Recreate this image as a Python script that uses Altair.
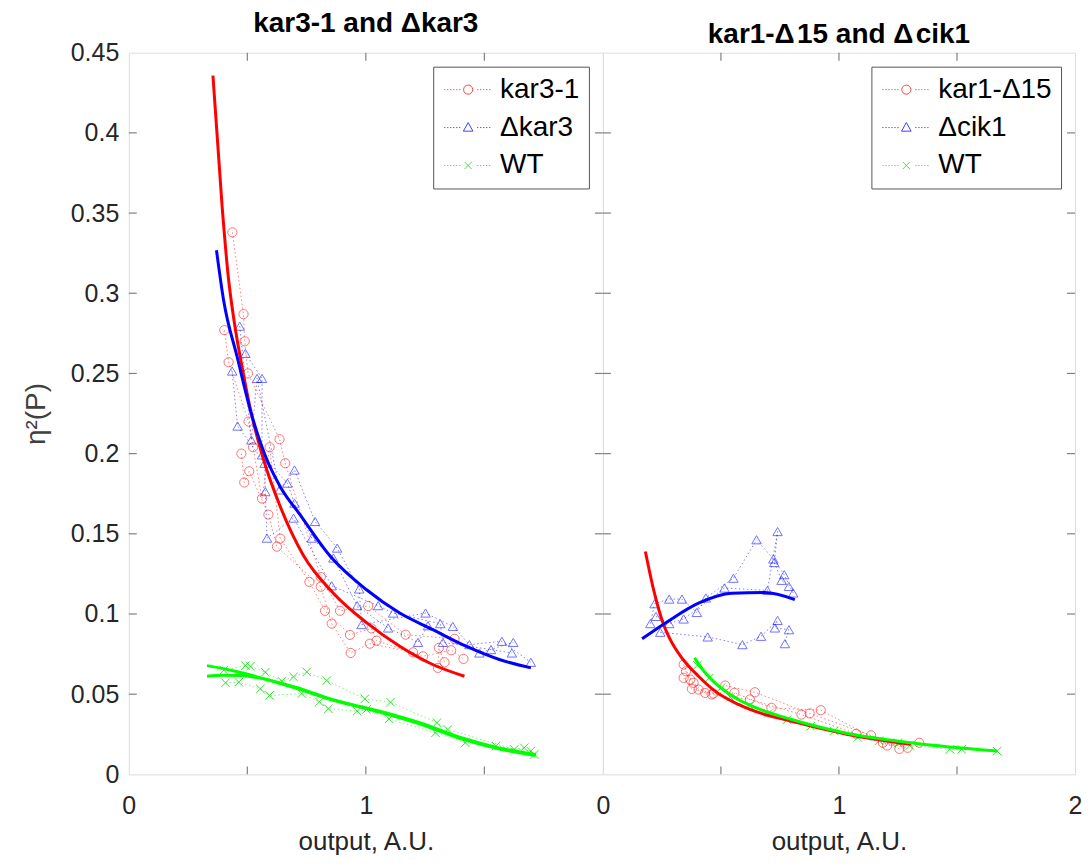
import altair as alt
import pandas as pd

# ---------------- data ----------------
# Left panel: kar3-1 (red circles)
kar31_x = [0.437, 0.484, 0.403, 0.489, 0.421, 0.503, 0.505, 0.524, 0.636, 0.594, 0.475, 0.660, 0.508,
           0.487, 0.562, 0.589, 0.639, 0.625, 0.762, 0.810, 0.810, 0.828, 0.891, 0.856, 0.933, 1.010,
           1.024, 1.017, 1.045, 0.936, 1.168, 1.199, 1.241, 1.308, 1.360, 1.374, 1.332, 1.304, 1.412]
kar31_y = [0.338, 0.287, 0.277, 0.270, 0.257, 0.250, 0.220, 0.204, 0.209, 0.204, 0.200, 0.194, 0.189,
           0.182, 0.172, 0.162, 0.147, 0.142, 0.120, 0.123, 0.117, 0.102, 0.102, 0.094, 0.087, 0.105,
           0.091, 0.0815, 0.0834, 0.0757, 0.0871, 0.0761, 0.0736, 0.0789, 0.0774, 0.0845, 0.0699, 0.0664, 0.0720]
kar31_run = [0, 0, 1, 0, 1, 0, 1, 1, 0, 1, 2, 0, 2, 2, 1, 2, 1, 2, 1, 0, 2, 1, 0, 2, 1, 0,
             1, 2, 1, 2, 0, 2, 1, 2, 1, 0, 2, 2, 1]

# Left panel: Δkar3 (blue triangles)
dkar3_x = [0.468, 0.492, 0.436, 0.541, 0.562, 0.459, 0.517, 0.562, 0.573, 0.699, 0.669, 0.576, 0.636,
           0.699, 0.695, 0.786, 0.772, 0.583, 0.879, 0.863, 0.856, 0.972, 0.963, 1.052, 0.982, 1.094,
           1.115, 1.252, 1.262, 1.314, 1.367, 1.220, 1.325, 1.437, 1.479, 1.528, 1.574, 1.622, 1.616, 1.696]
dkar3_y = [0.2795, 0.2625, 0.2515, 0.2469, 0.2469, 0.2172, 0.2085, 0.1992, 0.1940, 0.1898, 0.1816, 0.1763,
           0.1774, 0.1691, 0.1598, 0.1577, 0.1473, 0.1473, 0.1411, 0.1349, 0.1176, 0.1156, 0.1052, 0.1052,
           0.0934, 0.0913, 0.1006, 0.1006, 0.0927, 0.0940, 0.0923, 0.0823, 0.0823, 0.0809, 0.0757, 0.0778,
           0.0830, 0.0823, 0.0757, 0.0699]
dkar3_run = [0, 1, 2, 0, 1, 2, 0, 1, 2, 0, 1, 2, 0, 1, 2, 0, 1, 2, 0, 1, 2, 0, 1, 2, 0, 1, 2, 0, 1, 2,
             0, 1, 2, 0, 1, 2, 0, 1, 2, 0]

# Left panel: WT (green crosses)
wtL_x = [0.401, 0.408, 0.464, 0.492, 0.513, 0.576, 0.555, 0.594, 0.646, 0.695, 0.730, 0.751, 0.804,
         0.835, 0.842, 0.963, 0.996, 1.003, 1.098, 1.104, 1.300, 1.294, 1.346, 1.420, 1.549, 1.626,
         1.668, 1.696, 1.710]
wtL_y = [0.0649, 0.0571, 0.0575, 0.0678, 0.0674, 0.0637, 0.0533, 0.0492, 0.0581, 0.0608, 0.0504, 0.0639,
         0.0452, 0.0585, 0.0409, 0.0394, 0.0471, 0.0405, 0.0346, 0.0450, 0.0322, 0.0259, 0.0280, 0.0197,
         0.0176, 0.0156, 0.0166, 0.0145, 0.0124]
wtL_run = [0, 1, 1, 0, 0, 0, 1, 1, 0, 0, 1, 0, 1, 0, 1, 1, 0, 1, 1, 0, 0, 1, 0, 1, 1, 0, 0, 1, 1]

# Left panel fitted curves
fit_kar31_x = [0.355, 0.394, 0.420, 0.444, 0.478, 0.517, 0.569, 0.639, 0.735, 0.861, 1.003, 1.143, 1.282, 1.416]
fit_kar31_y = [0.4357, 0.3537, 0.310, 0.283, 0.254, 0.225, 0.196, 0.167, 0.137, 0.1133, 0.0946, 0.0799, 0.0685, 0.0612]
fit_dkar3_x = [0.370, 0.400, 0.457, 0.517, 0.575, 0.639, 0.723, 0.850, 1.003, 1.143, 1.283, 1.423, 1.563, 1.696]
fit_dkar3_y = [0.3268, 0.2956, 0.2604, 0.2249, 0.199, 0.1794, 0.1618, 0.136, 0.1151, 0.1006, 0.0902, 0.0799, 0.0716, 0.0664]
fit_wtL1_x = [0.330, 0.450, 0.555, 0.700, 0.850, 1.059, 1.227, 1.410, 1.560, 1.717]
fit_wtL1_y = [0.0678, 0.0643, 0.0602, 0.0540, 0.0468, 0.0394, 0.0322, 0.0225, 0.0165, 0.0124]
fit_wtL2_x = [0.330, 0.400, 0.470, 0.555, 0.700, 0.850, 1.059, 1.227, 1.410, 1.560, 1.717]
fit_wtL2_y = [0.0612, 0.0618, 0.0616, 0.0600, 0.0545, 0.0470, 0.0388, 0.0315, 0.0218, 0.0160, 0.0118]

# Right panel: kar1-Δ15 (red circles)
kar1_x = [0.342, 0.352, 0.342, 0.370, 0.384, 0.377, 0.405, 0.433, 0.461, 0.468, 0.518, 0.557, 0.623,
          0.644, 0.714, 0.841, 0.876, 0.923, 1.073, 1.136, 1.186, 1.204, 1.256, 1.291, 1.340]
kar1_y = [0.0685, 0.0643, 0.0602, 0.0591, 0.0571, 0.0533, 0.0529, 0.0508, 0.0498, 0.0504, 0.0554, 0.0508,
          0.0467, 0.0512, 0.0415, 0.0373, 0.0380, 0.0400, 0.0253, 0.0243, 0.0197, 0.0180, 0.0159, 0.0166, 0.0197]
kar1_run = [0, 1, 2, 0, 1, 2, 0, 1, 2, 0, 0, 1, 2, 0, 1, 2, 0, 1, 2, 0, 1, 2, 0, 1, 2]

# Right panel: Δcik1 (blue triangles), three traces in recorded order
dcik1_x = [0.201, 0.219, 0.281, 0.335, 0.398, 0.436, 0.553, 0.651, 0.722, 0.768, 0.806,
           0.225, 0.281, 0.342, 0.515, 0.697, 0.740, 0.726, 0.757, 0.788,
           0.243, 0.444, 0.591, 0.670, 0.740, 0.729, 0.788, 0.771]
dcik1_y = [0.0940, 0.1064, 0.1093, 0.1093, 0.1010, 0.1100, 0.1223, 0.1463, 0.1343, 0.1245, 0.1131,
           0.0985, 0.0940, 0.0969, 0.1162, 0.1147, 0.1514, 0.1321, 0.1210, 0.1172,
           0.0886, 0.0857, 0.0809, 0.0861, 0.0960, 0.0913, 0.0902, 0.0815]
dcik1_run = [0] * 11 + [1] * 9 + [2] * 8

# Right panel: WT (green crosses)
wtR_x = [0.400, 0.450, 0.500, 0.540, 0.620, 0.700, 0.780, 0.880, 0.980, 1.080, 1.170, 1.250, 1.300, 1.470, 1.520, 1.670]
wtR_y = [0.0680, 0.0600, 0.0540, 0.0480, 0.0430, 0.0380, 0.0340, 0.0300, 0.0270, 0.0230, 0.0210, 0.0197,
         0.0180, 0.0156, 0.0156, 0.0145]
wtR_run = [0] * 16

# Right panel fitted curves
fit_kar1_x = [0.180, 0.215, 0.257, 0.2855, 0.335, 0.405, 0.475, 0.574, 0.686, 0.770, 1.038, 1.305]
fit_kar1_y = [0.139, 0.115, 0.0934, 0.084, 0.0725, 0.0612, 0.0519, 0.0436, 0.0373, 0.0342, 0.0249, 0.0187]
fit_dcik1_x = [0.166, 0.265, 0.405, 0.546, 0.686, 0.813]
fit_dcik1_y = [0.0845, 0.0944, 0.1068, 0.1130, 0.1134, 0.1090]
fit_wtR_x = [0.388, 0.430, 0.475, 0.574, 0.686, 0.799, 1.038, 1.305, 1.671]
fit_wtR_y = [0.0726, 0.0640, 0.0571, 0.0467, 0.0394, 0.0342, 0.0255, 0.0197, 0.0145]

# Labels / ticks
left_title = "kar3-1 and \u0394kar3"
right_title = "kar1-\u0394\u200a15 and \u0394\u200acik1"
left_labels = ["kar3-1", "\u0394kar3", "WT"]
right_labels = ["kar1-\u039415", "\u0394cik1", "WT"]
series_colors = ["#ff0000", "#0000ff", "#00dd00"]
fit_colors = ["#ff0000", "#0000ff", "#00ff00"]
x_tick_marks = [0.5, 1.0, 1.5]
y_tick_marks = [0.05, 0.10, 0.15, 0.20, 0.25, 0.30, 0.35, 0.40]
y_tick_labels = [0, 0.05, 0.1, 0.15, 0.2, 0.25, 0.3, 0.35, 0.4, 0.45]
left_x_labels = [0, 1]
right_x_labels = [0, 1, 2]

# ---------------- styling ----------------
FONT = "Liberation Sans"
XDOM = [0, 2]
YDOM = [0, 0.45]
W_L, W_R, H = 475, 473, 723
TICK_DY = 8 / H * 0.45
FRAME = "#808080"

X_PATH = "M-1,-1L1,1M-1,1L1,-1"


def legend_path(marker):
    segs = []
    x = -2.0
    while x < 2.0:
        if abs(x + 0.05) > 0.55:
            segs.append(f"M{x:.3f},0L{x + 0.1:.3f},0")
        x += 0.25
    return "".join(segs) + marker


LEG_PATHS = [
    legend_path("M-0.38,0A0.38,0.38,0,1,0,0.38,0A0.38,0.38,0,1,0,-0.38,0"),
    legend_path("M0,-0.42L0.4,0.3L-0.4,0.3Z"),
    legend_path("M-0.3,-0.3L0.3,0.3M-0.3,0.3L0.3,-0.3"),
]


def df_pts(xs, ys, runs):
    return pd.DataFrame({"x": xs, "y": ys, "run": runs, "idx": list(range(len(xs)))})


def xenc(labels):
    return alt.X("x:Q", scale=alt.Scale(domain=XDOM, nice=False, zero=False),
                 axis=alt.Axis(values=labels, format="~g", ticks=False, domain=False, grid=False,
                               labelFlush=False, labelFontSize=25, labelFont=FONT,
                               labelColor="#262626", labelPadding=19,
                               title="output, A.U.", titleFontSize=26, titleFont=FONT,
                               titleFontWeight="normal", titleColor="#262626", titlePadding=10))


def yenc(show_axis):
    sc = alt.Scale(domain=YDOM, nice=False, zero=False)
    if show_axis:
        return alt.Y("y:Q", scale=sc,
                     axis=alt.Axis(values=y_tick_labels, format=".2~f", ticks=False, domain=False,
                                   grid=False, labelFontSize=25, labelFont=FONT, labelColor="#262626",
                                   labelPadding=10, title="\u03b7\u00b2(P)", titleFontSize=28,
                                   titleFont=FONT, titleFontWeight="normal", titleColor="#404040",
                                   titlePadding=20))
    return alt.Y("y:Q", scale=sc, axis=None)


def panel(scatter, fits, labels, title, xlabels, show_y, order_field, width):
    X = xenc(xlabels)
    Y = yenc(show_y)
    tick_dx = 8 / width * 2
    layers = []
    shapes = ["circle", "triangle-up", X_PATH]
    sizes = [85, 90, 72]
    for i, (xs, ys, runs) in enumerate(scatter):
        d = df_pts(xs, ys, runs)
        base = alt.Chart(d)
        layers.append(base.mark_line(strokeDash=[1.5, 2.5], strokeWidth=1, color=series_colors[i],
                                     opacity=0.5).encode(
            x=X, y=Y, detail="run:N", order=alt.Order(f"{order_field}:Q")))
        layers.append(base.mark_point(shape=shapes[i], size=sizes[i], filled=False, strokeWidth=1,
                                      color=series_colors[i], opacity=0.55 if i < 2 else 0.8).encode(
            x=X, y=Y))
    for j, (fx, fy, ci) in enumerate(fits):
        d = pd.DataFrame({"x": fx, "y": fy})
        layers.append(alt.Chart(d).mark_line(strokeWidth=3, color=fit_colors[ci],
                                             interpolate="monotone").encode(x=X, y=Y))
    # inward box ticks
    xt = pd.DataFrame({"x": x_tick_marks})
    xt_b = xt.assign(y=0.0, y2=TICK_DY)
    xt_t = xt.assign(y=0.45, y2=0.45 - TICK_DY)
    yt = pd.DataFrame({"y": y_tick_marks})
    yt_l = yt.assign(x=0.0, x2=tick_dx)
    yt_r = yt.assign(x=2.0, x2=2.0 - tick_dx)
    for d in (xt_b, xt_t):
        layers.append(alt.Chart(d).mark_rule(color=FRAME, strokeWidth=1.2).encode(
            x=X, y=Y, y2="y2:Q"))
    for d in (yt_l, yt_r):
        layers.append(alt.Chart(d).mark_rule(color=FRAME, strokeWidth=1.2).encode(
            x=X, x2="x2:Q", y=Y))
    # legend proxy (clipped away from the plot)
    leg = pd.DataFrame({"series": labels, "x": [-1.0] * 3, "y": [-1.0] * 3})
    legend = alt.Legend(title=None, orient="top-right", offset=14, padding=9,
                        fillColor="white", strokeColor="#555555",
                        labelFontSize=28, labelFont=FONT, labelColor="#000000",
                        symbolSize=576, symbolStrokeWidth=1, symbolOffset=12,
                        labelOffset=18, rowPadding=10, symbolOpacity=0.75)
    layers.append(alt.Chart(leg).mark_point(clip=True, filled=False, opacity=1).encode(
        x=X, y=Y,
        shape=alt.Shape("series:N", scale=alt.Scale(domain=labels, range=LEG_PATHS), legend=legend),
        color=alt.Color("series:N", scale=alt.Scale(domain=labels, range=series_colors), legend=legend),
    ))
    return alt.layer(*layers).properties(
        width=width, height=H,
        title=alt.TitleParams(text=title, fontSize=28, fontWeight="bold", font=FONT, color="#000000",
                              offset=3))


left = panel(
    [(kar31_x, kar31_y, kar31_run), (dkar3_x, dkar3_y, dkar3_run), (wtL_x, wtL_y, wtL_run)],
    [(fit_kar31_x, fit_kar31_y, 0), (fit_dkar3_x, fit_dkar3_y, 1),
     (fit_wtL1_x, fit_wtL1_y, 2), (fit_wtL2_x, fit_wtL2_y, 2)],
    left_labels, left_title, left_x_labels, True, "x", W_L)

right = panel(
    [(kar1_x, kar1_y, kar1_run), (dcik1_x, dcik1_y, dcik1_run), (wtR_x, wtR_y, wtR_run)],
    [(fit_kar1_x, fit_kar1_y, 0), (fit_dcik1_x, fit_dcik1_y, 1), (fit_wtR_x, fit_wtR_y, 2)],
    right_labels, right_title, right_x_labels, False, "idx", W_R)

chart = alt.hconcat(left, right, spacing=0, bounds="flush").resolve_scale(
    color="independent", shape="independent"
).resolve_legend(
    color="independent", shape="independent"
).properties(
    padding={"left": 13, "top": 0, "right": 0, "bottom": 2}
).configure_view(
    stroke=FRAME, strokeWidth=1.5
).configure(background="white")

chart.save("out.html", embed_options={"renderer": "svg", "actions": False})
